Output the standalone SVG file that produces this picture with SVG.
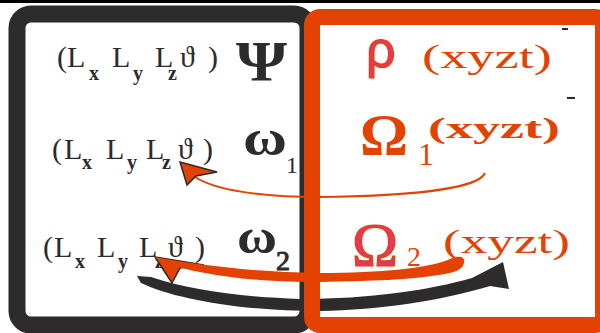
<svg xmlns="http://www.w3.org/2000/svg" width="600" height="333" viewBox="0 0 600 333">
<style>
.ser{font-family:'Liberation Serif','DejaVu Serif',serif;fill:#2d2b2c}
.sub{font-family:'Liberation Serif','DejaVu Serif',serif;font-weight:bold;font-size:20px;fill:#2d2b2c}
.L{font-size:30px}
.or{font-family:'Liberation Serif','DejaVu Serif',serif;fill:#e34202}
.pk{fill:#e6375e;stroke:#e34202;stroke-width:1.2}
</style>
<defs>
<clipPath id="gap"><rect x="0" y="0" width="304" height="333"/><rect x="320" y="0" width="280" height="333"/></clipPath>
</defs>
<line x1="0" y1="1.5" x2="600" y2="1.5" stroke="#000" stroke-width="3"/>
<g id="left-box">
<rect x="17" y="14" width="291" height="311" rx="14" fill="#fff" stroke="#2d2b2c" stroke-width="17"/>
<text class="ser L"><tspan x="57" y="67">(</tspan><tspan x="67" y="67">L</tspan><tspan x="112" y="67">L</tspan><tspan x="155" y="67">L</tspan><tspan x="180" y="67">ϑ</tspan><tspan x="208" y="67">)</tspan></text>
<text class="sub"><tspan x="89" y="80">x</tspan><tspan x="133" y="80">y</tspan><tspan x="168" y="80">z</tspan></text>
<text class="ser" x="236" y="81" font-size="56" font-weight="bold" textLength="51" lengthAdjust="spacingAndGlyphs">Ψ</text>
<text class="ser L"><tspan x="52" y="159">(</tspan><tspan x="64" y="159">L</tspan><tspan x="106" y="159">L</tspan><tspan x="146" y="159">L</tspan><tspan x="178" y="159">ϑ</tspan><tspan x="203" y="159">)</tspan></text>
<text class="sub"><tspan x="82" y="169">x</tspan><tspan x="127" y="169">y</tspan><tspan x="162" y="169">z</tspan></text>
<text class="ser" x="243" y="155" font-size="50" font-weight="bold" textLength="44" lengthAdjust="spacingAndGlyphs">ω</text>
<text class="ser" x="286" y="173" font-size="24">1</text>
<text class="ser L"><tspan x="43" y="257">(</tspan><tspan x="54" y="257">L</tspan><tspan x="97" y="257">L</tspan><tspan x="139" y="257">L</tspan><tspan x="168" y="257">ϑ</tspan><tspan x="195" y="257">)</tspan></text>
<text class="sub"><tspan x="75" y="268">x</tspan><tspan x="118" y="268">y</tspan><tspan x="155" y="268">z</tspan></text>
<text class="ser" x="237" y="253" font-size="48" font-weight="bold" textLength="40" lengthAdjust="spacingAndGlyphs">ω</text>
<text class="ser" x="276" y="270" font-size="28" fill="#fff" stroke="#2d2b2c" stroke-width="1">2</text>
</g>
<g id="connectors">
<path clip-path="url(#gap)" d="M 137 276 L 151 277 C 190 290 240 297 300 299 C 370 299 430 290 472 278 L 503 262 L 509 289 L 490 286 C 440 301 380 310 320 311 C 240 311 175 299 141 283 Z" fill="#2d2b2c"/>
</g>
<g id="right-box">
<rect x="312" y="17" width="291" height="308" rx="8" fill="none" stroke="#e34202" stroke-width="16"/>
<text x="366" y="67" font-family="'Liberation Sans',Arial,sans-serif" font-size="52" class="pk">ρ</text>
<text class="or" x="422" y="68" font-size="33" textLength="130" lengthAdjust="spacingAndGlyphs">(xyzt)</text>
<text class="or" x="360" y="155" font-size="60" font-weight="bold">Ω</text>
<text class="or" x="418" y="165" font-size="32">1</text>
<text class="or" x="428" y="138" font-size="30" font-weight="bold" textLength="132" lengthAdjust="spacingAndGlyphs">(xyzt)</text>
<text x="352" y="265" font-family="'Liberation Serif',serif" font-size="62" class="pk">Ω</text>
<text class="or" x="407" y="266" font-size="28">2</text>
<text class="or" x="443" y="253" font-size="33" textLength="127" lengthAdjust="spacingAndGlyphs">(xyzt)</text>
<line x1="562" y1="29" x2="568" y2="29" stroke="#2d2b2c" stroke-width="2"/>
<line x1="567" y1="98" x2="575" y2="98" stroke="#2d2b2c" stroke-width="2"/>
</g>
<g id="connectors-orange">
<path d="M 485 173 C 478 190 400 196 320 197 C 260 197 215 190 195 177" fill="none" stroke="#e34202" stroke-width="2"/>
<polygon points="180,162 217,172 196,176 187,185" fill="#e34202" stroke="#2d2b2c" stroke-width="1.5"/>
<polygon points="155,257 204,265 180,268 172,283" fill="#e34202" stroke="#2d2b2c" stroke-width="1.5"/>
<path d="M 155 257 C 200 265 250 272 320 273 C 380 273 430 268 450 259 C 458 255 466 256 464 263 C 462 270 455 272 445 274 C 410 280 370 281 320 282 C 260 283 200 275 160 262 Z" fill="#e34202"/>
</g>
</svg>
